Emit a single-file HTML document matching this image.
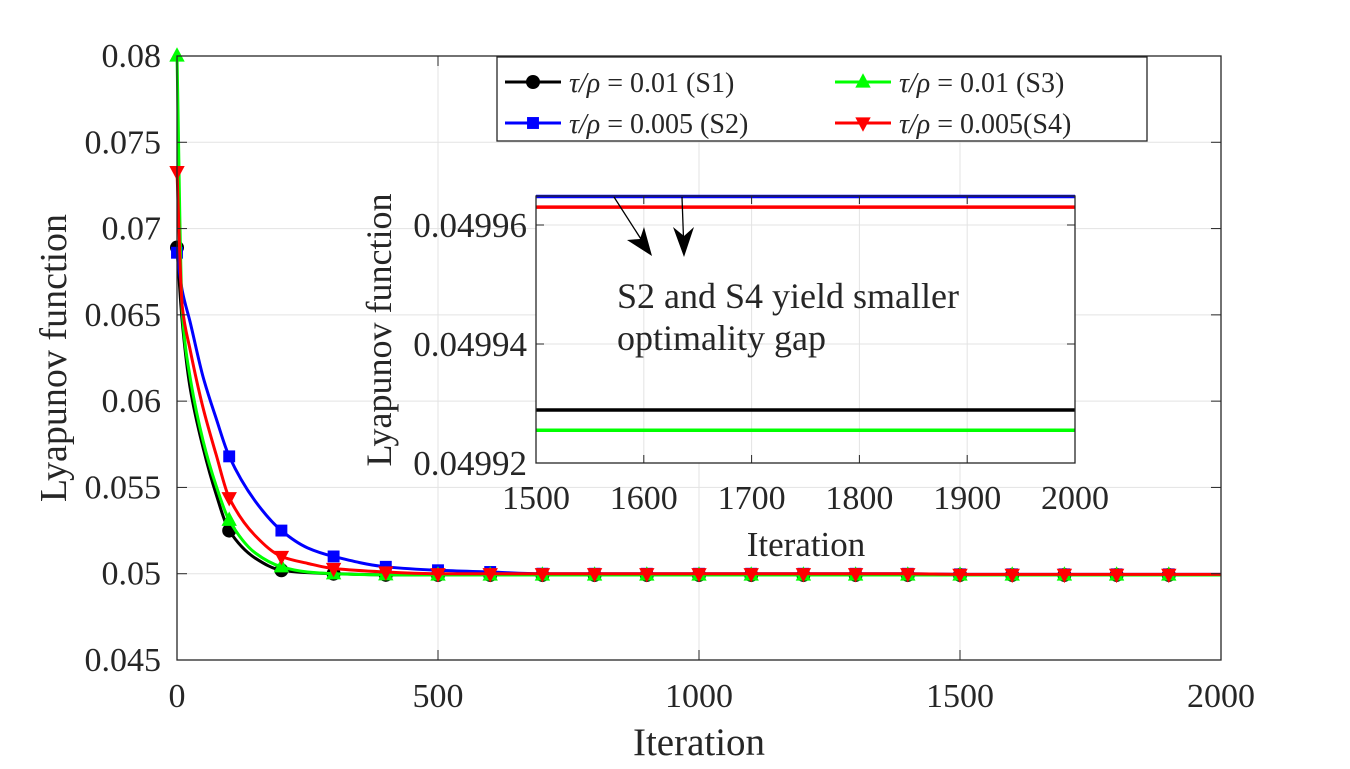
<!DOCTYPE html>
<html><head><meta charset="utf-8"><style>
body{margin:0;background:#fff;}
svg text{font-family:"Liberation Serif","Times New Roman",serif;fill:#262626;}
</style></head><body>
<svg id="c" width="1350" height="764" viewBox="0 0 1350 764" xmlns="http://www.w3.org/2000/svg"></svg>
<script>
const iters=[0,10,25,50,75,100,150,200,250,300,400,500,600,700,800,900,1000,1100,1200,1300,1400,1500,1600,1700,1800,1900,2000];
const s1=[0.0689,0.0646,0.0608,0.0573,0.0546,0.0525,0.0509,0.0502,0.05006,0.05,0.049935,0.049929,0.049929,0.049929,0.049929,0.049929,0.049929,0.049929,0.049929,0.049929,0.049929,0.0499289,0.0499289,0.0499289,0.0499289,0.0499289,0.0499289];
const s2=[0.0686,0.0664,0.0646,0.0614,0.0590,0.0568,0.0542,0.0525,0.0515,0.051,0.0504,0.0502,0.0501,0.05,0.049998,0.049997,0.049997,0.049997,0.049997,0.049997,0.049997,0.0499648,0.0499648,0.0499648,0.0499648,0.0499648,0.0499648];
const s3=[0.08,0.0652,0.0614,0.0577,0.0551,0.0531,0.0512,0.0504,0.0501,0.05,0.049935,0.049926,0.049926,0.049926,0.049926,0.049926,0.049926,0.049926,0.049926,0.049926,0.049926,0.0499255,0.0499255,0.0499255,0.0499255,0.0499255,0.0499255];
const s4=[0.0733,0.0655,0.0630,0.0596,0.0569,0.0544,0.0522,0.051,0.0506,0.0503,0.0501,0.05,0.049997,0.049997,0.049997,0.049997,0.049997,0.049997,0.049997,0.049997,0.049997,0.0499630,0.0499630,0.0499630,0.0499630,0.0499630,0.0499630];
const xTicks=[0,500,1000,1500,2000];
const yTicks=[0.045,0.05,0.055,0.06,0.065,0.07,0.075,0.08];
const yTickLabels=["0.045","0.05","0.055","0.06","0.065","0.07","0.075","0.08"];
const ixTicks=[1500,1600,1700,1800,1900,2000];
const iyTicks=[0.04992,0.04994,0.04996];
const iyTickLabels=["0.04992","0.04994","0.04996"];
const markerIters=[0,100,200,300,400,500,600,700,800,900,1000,1100,1200,1300,1400,1500,1600,1700,1800,1900];

const svg=document.getElementById('c');
const NS='http://www.w3.org/2000/svg';
function el(t,a,p){const e=document.createElementNS(NS,t);for(const k in a)e.setAttribute(k,a[k]);(p||svg).appendChild(e);return e;}
function txt(str,x,y,size,anchor,rot,p,fill){
  const t=el('text',{x:0,y:0,'font-size':28,'text-anchor':anchor||'start',
    transform:`translate(${x},${y}) rotate(${rot||0}) scale(${size/28})`},p);
  if(fill)t.setAttribute('fill',fill);
  t.textContent=str;return t;
}
const X=v=>177+(v/2000)*1044;
const Y=v=>660-(v-0.045)/0.035*604;
const IX=v=>536+(v-1500)/500*539;
const IY=v=>463-(v-0.04992)/0.00002*119;

function monoPath(xs,ys){
  const n=xs.length,d=[],m=[];
  for(let i=0;i<n-1;i++)d.push((ys[i+1]-ys[i])/(xs[i+1]-xs[i]));
  m[0]=d[0];m[n-1]=d[n-2];
  for(let i=1;i<n-1;i++)m[i]=(d[i-1]*d[i]<=0)?0:(2/(1/d[i-1]+1/d[i]));
  let s='M'+xs[0]+','+ys[0];
  for(let i=0;i<n-1;i++){const h=xs[i+1]-xs[i];
    s+=' C'+(xs[i]+h/3)+','+(ys[i]+m[i]*h/3)+' '+(xs[i+1]-h/3)+','+(ys[i+1]-m[i+1]*h/3)+' '+xs[i+1]+','+ys[i+1];}
  return s;
}
function marker(kind,cx,cy,col,g,sz){
  sz=sz||7;let m;
  if(kind==='circle')m=el('circle',{cx:cx,cy:cy,r:sz,fill:col},g);
  else if(kind==='square')m=el('rect',{x:cx-sz*0.85,y:cy-sz*0.85,width:sz*1.7,height:sz*1.7,fill:col},g);
  else if(kind==='up')m=el('polygon',{points:`${cx},${cy-sz*1.25} ${cx-sz*1.1},${cy+sz*0.8} ${cx+sz*1.1},${cy+sz*0.8}`,fill:col},g);
  else m=el('polygon',{points:`${cx},${cy+sz*1.25} ${cx-sz*1.1},${cy-sz*0.8} ${cx+sz*1.1},${cy-sz*0.8}`,fill:col},g);
  
  
}

const grid=el('g',{});


xTicks.forEach(t=>el('line',{x1:X(t),x2:X(t),y1:56,y2:660,stroke:'#e3e3e3','stroke-width':1},grid));
yTicks.forEach(t=>el('line',{x1:177,x2:1221,y1:Y(t),y2:Y(t),stroke:'#e3e3e3','stroke-width':1},grid));

const series=[
 {name:'s1',v:s1,c:'#000000',m:'circle'},
 {name:'s2',v:s2,c:'#0000ff',m:'square'},
 {name:'s3',v:s3,c:'#00ff00',m:'up'},
 {name:'s4',v:s4,c:'#ff0000',m:'down'}];
series.forEach(s=>{
  const g=el('g',{});
  
  
  const p=el('path',{d:monoPath(iters.map(X),s.v.map(Y)),fill:'none',stroke:s.c,'stroke-width':3},g);
  
  
  markerIters.forEach(t=>{const i=iters.indexOf(t);marker(s.m,X(t),Y(s.v[i]),s.c,g,7);});
});

const ax=el('g',{});


el('rect',{x:177,y:56,width:1044,height:604,fill:'none',stroke:'#262626','stroke-width':1.3},ax);
xTicks.forEach(t=>{
  el('line',{x1:X(t),x2:X(t),y1:660,y2:650,stroke:'#262626'},ax);
  el('line',{x1:X(t),x2:X(t),y1:56,y2:66,stroke:'#262626'},ax);
  const tx=txt(String(t),X(t),707,34,'middle',0,ax);
  
  
});
yTicks.forEach((t,i)=>{
  el('line',{x1:177,x2:187,y1:Y(t),y2:Y(t),stroke:'#262626'},ax);
  el('line',{x1:1221,x2:1211,y1:Y(t),y2:Y(t),stroke:'#262626'},ax);
  const tx=txt(yTickLabels[i],161,Y(t)+11,34,'end',0,ax);
  
  
});
let xl=txt('Iteration',699,755,39,'middle',0);


let yl=txt('Lyapunov function',66,358,38,'middle',-90);



const lg=el('g',{});


el('rect',{x:497,y:57,width:650,height:84,fill:'#fff',stroke:'#262626','stroke-width':1.3},lg);
const leg=[['τ/ρ = 0.01 (S1)',505,82,0],['τ/ρ = 0.005 (S2)',505,123,1],['τ/ρ = 0.01 (S3)',835,82,2],['τ/ρ = 0.005(S4)',835,123,3]];
leg.forEach(l=>{
  const s=series[l[3]];
  const g=el('g',{},lg);
  
  
  el('line',{x1:l[1],x2:l[1]+56,y1:l[2],y2:l[2],stroke:s.c,'stroke-width':3},g);
  marker(s.m,l[1]+28,l[2],s.c,g,7);
  const t=el('text',{x:l[1]+64,y:l[2]+10,'font-size':28},g);
  const parts=l[0].split(' = ');
  const it=el('tspan',{'font-style':'italic'},t);it.textContent=parts[0];
  const rt=el('tspan',{},t);rt.textContent=' = '+parts[1];
});

const ins=el('g',{});


el('rect',{x:536,y:196,width:539,height:267,fill:'#fff'},ins);
ixTicks.forEach(t=>el('line',{x1:IX(t),x2:IX(t),y1:196,y2:463,stroke:'#e3e3e3'},ins));
iyTicks.forEach(t=>el('line',{x1:536,x2:1075,y1:IY(t),y2:IY(t),stroke:'#e3e3e3'},ins));
const tailStart=iters.indexOf(1500);
series.forEach(s=>{
  const xs=iters.slice(tailStart).map(IX),ys=s.v.slice(tailStart).map(IY);
  const p=el('polyline',{points:xs.map((x,i)=>x+','+ys[i]).join(' '),fill:'none',stroke:s.c,'stroke-width':3.5},ins);
  
  
});
el('rect',{x:536,y:196,width:539,height:267,fill:'none',stroke:'#262626','stroke-width':1.3},ins);
ixTicks.forEach(t=>{
  el('line',{x1:IX(t),x2:IX(t),y1:463,y2:455,stroke:'#262626'},ins);
  el('line',{x1:IX(t),x2:IX(t),y1:196,y2:204,stroke:'#262626'},ins);
  const tx=txt(String(t),IX(t),509,34,'middle',0,ins);
  
  
});
iyTicks.forEach((t,i)=>{
  el('line',{x1:536,x2:544,y1:IY(t),y2:IY(t),stroke:'#262626'},ins);
  el('line',{x1:1075,x2:1067,y1:IY(t),y2:IY(t),stroke:'#262626'},ins);
  const tx=txt(iyTickLabels[i],527,IY(t)+12,35,'end',0,ins);
  
  
});
let ixl=txt('Iteration',806,556,35,'middle',0,ins);


let iyl=txt('Lyapunov function',391,330,36,'middle',-90,ins);



const an=el('g',{});


el('line',{x1:614,y1:197,x2:648,y2:250,stroke:'#000','stroke-width':1.3},an);
el('polygon',{points:'652,256 627,240 640,239 644,227',fill:'#000'},an);
el('line',{x1:682,y1:197,x2:684,y2:252,stroke:'#000','stroke-width':1.3},an);
el('polygon',{points:'684,257 673,227 684,236 694,227',fill:'#000'},an);
let a1=txt('S2 and S4 yield smaller',617,308,36,'start',0,an,'#000');


let a2=txt('optimality gap',617,350,36,'start',0,an,'#000');


</script>
</body></html>
